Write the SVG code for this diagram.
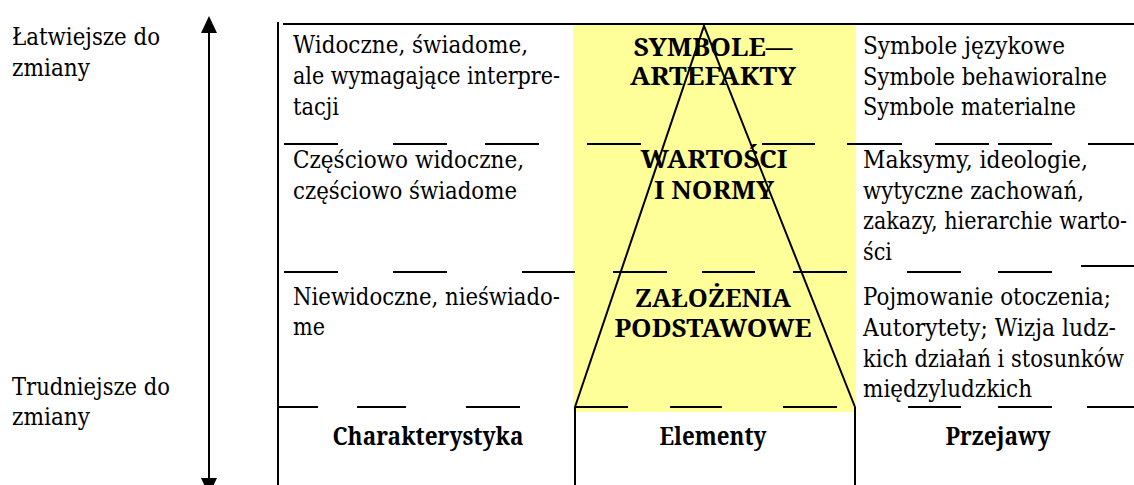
<svg xmlns="http://www.w3.org/2000/svg" width="1134" height="485" viewBox="0 0 1134 485">
<style>
text{font-family:'DejaVu Serif',serif;font-size:23.5px;fill:#000}
text.b{font-family:'Noto Serif','DejaVu Serif',serif;font-size:24.5px;font-weight:bold;text-anchor:middle}
.ln{stroke:#000;stroke-width:2;fill:none}
.d{stroke:#000;stroke-width:2;fill:none}
</style>
<rect x="573" y="25" width="283" height="387" fill="#FFFF99"/>
<g id="frame">
<line class="ln" x1="283" y1="24" x2="1134" y2="24" stroke-width="2.5"/>
<line class="ln" x1="278" y1="22" x2="278" y2="485"/>
<line class="ln" x1="575" y1="407" x2="575" y2="485"/>
<line class="ln" x1="855" y1="407" x2="855" y2="485"/>
</g>
<g id="separators">
<path class="d" d="M284 144H338M393 144H447M485 144H539M587 144H641M762 144H815M847 144H902M935 144H989M998 144H1052M1088 144H1134"/>
<path class="d" d="M284 272H338M393 272H447M522 272H575M613 272H667M702 272H755M793 272H847M907 272H961M998 272H1052M1081 266H1134"/>
<path class="d" d="M278 407H318M357 407H406M466 407H520M575 407H628M670 407H722M783 407H837M908 407H961M998 407H1052M1087 407H1134"/>
</g>
<g id="triangle">
<path class="ln" stroke-width="1.8" d="M575 407L704 26L855 407"/>
</g>
<g id="label-easier">
<text x="12" y="45" textLength="148" lengthAdjust="spacingAndGlyphs">Łatwiejsze do</text>
<text x="12" y="76" textLength="78" lengthAdjust="spacingAndGlyphs">zmiany</text>
</g>
<g id="label-harder">
<text x="12" y="395" textLength="158" lengthAdjust="spacingAndGlyphs">Trudniejsze do</text>
<text x="12" y="425" textLength="78" lengthAdjust="spacingAndGlyphs">zmiany</text>
</g>
<g id="row1-char">
<text x="293" y="53" textLength="235" lengthAdjust="spacingAndGlyphs">Widoczne, świadome,</text>
<text x="293" y="84" textLength="267" lengthAdjust="spacingAndGlyphs">ale wymagające interpre-</text>
<text x="293" y="115" textLength="46" lengthAdjust="spacingAndGlyphs">tacji</text>
</g>
<g id="row1-elem">
<text class="b" x="713" y="56" textLength="159" lengthAdjust="spacingAndGlyphs">SYMBOLE—</text>
<text class="b" x="713" y="85" textLength="166" lengthAdjust="spacingAndGlyphs">ARTEFAKTY</text>
</g>
<g id="row1-manif">
<text x="863" y="54" textLength="202" lengthAdjust="spacingAndGlyphs">Symbole językowe</text>
<text x="863" y="85" textLength="244" lengthAdjust="spacingAndGlyphs">Symbole behawioralne</text>
<text x="863" y="115" textLength="213" lengthAdjust="spacingAndGlyphs">Symbole materialne</text>
</g>
<g id="row2-char">
<text x="293" y="168" textLength="231" lengthAdjust="spacingAndGlyphs">Częściowo widoczne,</text>
<text x="293" y="199" textLength="224" lengthAdjust="spacingAndGlyphs">częściowo świadome</text>
</g>
<g id="row2-elem">
<text class="b" x="714" y="168" textLength="147" lengthAdjust="spacingAndGlyphs">WARTOŚCI</text>
<text class="b" x="714" y="199" textLength="120" lengthAdjust="spacingAndGlyphs">I NORMY</text>
</g>
<g id="row2-manif">
<text x="863" y="168" textLength="225" lengthAdjust="spacingAndGlyphs">Maksymy, ideologie,</text>
<text x="863" y="198.5" textLength="221" lengthAdjust="spacingAndGlyphs">wytyczne zachowań,</text>
<text x="863" y="229" textLength="264" lengthAdjust="spacingAndGlyphs">zakazy, hierarchie warto-</text>
<text x="863" y="259.5" textLength="29" lengthAdjust="spacingAndGlyphs">ści</text>
</g>
<g id="row3-char">
<text x="293" y="305" textLength="267" lengthAdjust="spacingAndGlyphs">Niewidoczne, nieświado-</text>
<text x="293" y="335" textLength="32" lengthAdjust="spacingAndGlyphs">me</text>
</g>
<g id="row3-elem">
<text class="b" x="713" y="307" textLength="156" lengthAdjust="spacingAndGlyphs">ZAŁOŻENIA</text>
<text class="b" x="713" y="337" textLength="197" lengthAdjust="spacingAndGlyphs">PODSTAWOWE</text>
</g>
<g id="row3-manif">
<text x="863" y="305" textLength="248" lengthAdjust="spacingAndGlyphs">Pojmowanie otoczenia;</text>
<text x="863" y="336" textLength="253" lengthAdjust="spacingAndGlyphs">Autorytety; Wizja ludz-</text>
<text x="863" y="367" textLength="261" lengthAdjust="spacingAndGlyphs">kich działań i stosunków</text>
<text x="863" y="397" textLength="169" lengthAdjust="spacingAndGlyphs">międzyludzkich</text>
</g>
<g id="footer">
<text class="b" x="428" y="445" textLength="191" lengthAdjust="spacingAndGlyphs">Charakterystyka</text>
<text class="b" x="713" y="445" textLength="107" lengthAdjust="spacingAndGlyphs">Elementy</text>
<text class="b" x="998" y="445" textLength="105" lengthAdjust="spacingAndGlyphs">Przejawy</text>
</g>
<g id="connectors">
<line class="ln" x1="209" y1="30" x2="209" y2="480"/>
<polygon points="209,16 201,33 217,33" fill="#000"/>
<polygon points="201,478 217,478 209,495" fill="#000"/>
</g>
</svg>
